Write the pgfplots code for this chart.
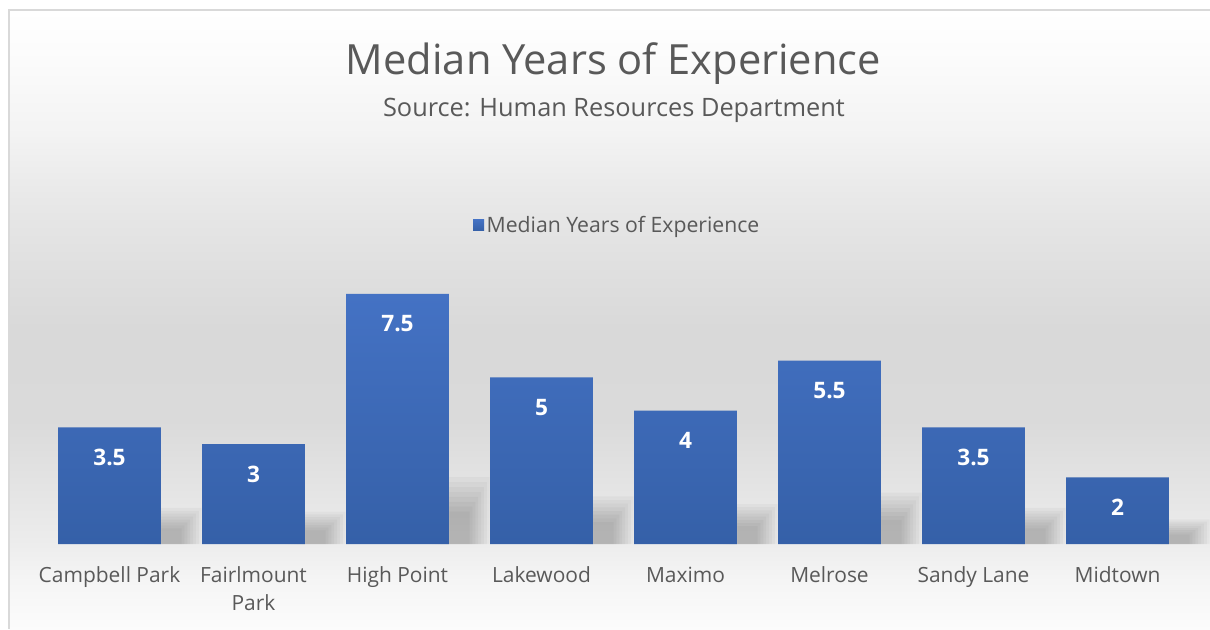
\documentclass[border=0pt]{standalone}
\usepackage{pgfplots}
\usepackage{pgfplotstable}
\pgfplotsset{compat=1.18}
\usepackage{fontspec}
\setmainfont{Open Sans}
\definecolor{txt}{HTML}{595959}
\definecolor{bartop}{HTML}{4472C4}
\definecolor{barbot}{HTML}{3560A8}
\definecolor{framec}{HTML}{D9D9D9}
\pgfdeclareverticalshading{bgshade}{100bp}{%
 rgb(0bp)=(0.988,0.988,0.988);
 rgb(25bp)=(0.988,0.988,0.988);
 rgb(28.96bp)=(0.96,0.96,0.96);
 rgb(32.19bp)=(0.925,0.925,0.925);
 rgb(41.88bp)=(0.855,0.855,0.855);
 rgb(49.15bp)=(0.85,0.85,0.85);
 rgb(55.61bp)=(0.885,0.885,0.885);
 rgb(59.65bp)=(0.91,0.91,0.91);
 rgb(65.31bp)=(0.955,0.955,0.955);
 rgb(70.96bp)=(0.985,0.985,0.985);
 rgb(75bp)=(1,1,1);
 rgb(100bp)=(1,1,1)}
\pgfplotstableread{
x y
0 3.5
1 3
2 7.5
3 5
4 4
5 5.5
6 3.5
7 2
}\datatable
\pgfplotsset{
  shadowlayer/.style n args={3}{ybar, forget plot, draw=none, fill=black, fill opacity=0.03,
    bar shift=0.43, bar width=#1, y filter/.expression={y*#2+#3}},
}
\begin{document}
\begin{tikzpicture}[x=0.75pt,y=0.75pt]
\useasboundingbox (0,0) rectangle (1210,629);
\fill[white] (0,0) rectangle (1210,629);
\shade[shading=bgshade] (9,0) rectangle (1210,619);
\draw[framec, line width=1pt] (9,0) -- (9,619) -- (1210,619);
\node[text=txt, font=\fontsize{31.2}{37}\selectfont] at (613.5,565) {Median Years of Experience};
\node[text=txt, font=\fontsize{19}{23}\selectfont] at (614,519) {Source: Human Resources Department};
\begin{axis}[
  at={(28.125pt,63.75pt)}, anchor=south west,
  scale only axis, width=864pt, height=200pt,
  xmin=-0.5, xmax=7.5, ymin=0, ymax=8,
  axis line style={draw=none}, tick style={draw=none},
  ytick=\empty, xtick=data,
  xticklabels={Campbell Park,{Fairlmount\\Park},High Point,Lakewood,Maximo,Melrose,Sandy Lane,Midtown},
  x tick label style={align=center, text=txt, font=\fontsize{15.7}{21}\selectfont, yshift=-13.5pt},
  /pgf/number format/assume math mode=true,
  legend style={at={(0.5035,1.196)}, anchor=center, draw=none, fill=none, font=\fontsize{15.9}{19}\selectfont, text=txt},
  legend image code/.code={\fill[bartop] (-2pt,-4.1pt) rectangle (6.25pt,4.1pt);},
  clip=false,
]
\addplot[shadowlayer={0.42}{0.23}{0.28}] table[x=x,y=y] {\datatable};
\addplot[shadowlayer={0.38}{0.215}{0.245}] table[x=x,y=y] {\datatable};
\addplot[shadowlayer={0.34}{0.20}{0.21}] table[x=x,y=y] {\datatable};
\addplot[shadowlayer={0.30}{0.185}{0.175}] table[x=x,y=y] {\datatable};
\addplot[shadowlayer={0.26}{0.17}{0.14}] table[x=x,y=y] {\datatable};
\addplot[shadowlayer={0.22}{0.155}{0.105}] table[x=x,y=y] {\datatable};
\addplot[shadowlayer={0.18}{0.14}{0.07}] table[x=x,y=y] {\datatable};
\addplot[shadowlayer={0.14}{0.125}{0.035}] table[x=x,y=y] {\datatable};
\addplot[ybar, bar width=0.715, draw=none, top color=bartop, bottom color=barbot,
  nodes near coords,
  every node near coord/.append style={font=\bfseries\fontsize{17}{20}\selectfont, text=white, anchor=center, yshift=-22.5pt}] table[x=x,y=y] {\datatable};
\addlegendentry{Median Years of Experience}
\end{axis}
\end{tikzpicture}
\end{document}
